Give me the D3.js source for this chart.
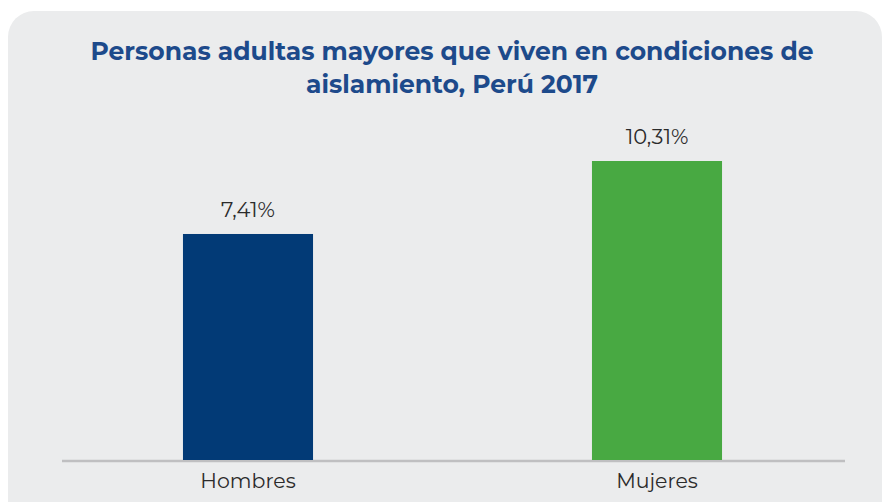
<!DOCTYPE html>
<html lang="es">
<head>
	<meta charset="UTF-8">
	<title>Personas adultas mayores en aislamiento</title>
	<style>
		body {
			margin: 0;
			background: #fff;
			overflow: hidden;
		}
		svg {
			display: block;
		}
		.title {
			font-family: "Montserrat", "Open Sans", sans-serif;
			font-weight: 700;
			font-size: 25px;
			fill: #1d4a8b;
		}
		.val, .cat {
			font-family: "Montserrat", "Open Sans", sans-serif;
			fill: #2b2b2b;
		}
	</style>
	<script src="https://d3js.org/d3.v7.min.js"></script>
</head>
<body>
	<script>
		// datos
		const categories = ["Hombres", "Mujeres"];
		const values = [7.41, 10.31];
		const labels = ["7,41%", "10,31%"];
		const barColors = ["#023a76", "#48a942"];
		const titleLines = ["Personas adultas mayores que viven en condiciones de", "aislamiento, Perú 2017"];
		const yMin = -1.57; // the axis in the original does not start at 0

		const W = 884, H = 502;

		const svg = d3.select("body")
			.append("svg")
			.attr("width", W)
			.attr("height", H);

		// panel de fondo
		svg.append("rect")
			.attr("x", 8)
			.attr("y", 11)
			.attr("width", 874)
			.attr("height", 520)
			.attr("rx", 26)
			.attr("fill", "#ebeced");

		svg.selectAll(".title")
			.data(titleLines)
			.enter()
			.append("text")
			.attr("class", "title")
			.attr("x", 452)
			.attr("y", (d, i) => 60 + i * 33)
			.attr("text-anchor", "middle")
			.text(d => d);

		const x = d3.scaleBand()
			.domain(categories)
			.range([43.5, 861.5])
			.padding(0);

		const y = d3.scaleLinear()
			.domain([yMin, d3.max(values)])
			.range([460, 161]);

		const barW = x.bandwidth() * 0.318;

		// eje
		svg.append("line")
			.attr("x1", 62)
			.attr("x2", 845)
			.attr("y1", 461)
			.attr("y2", 461)
			.attr("stroke", "#bfbfc1")
			.attr("stroke-width", 2.5);

		svg.selectAll(".bar")
			.data(values)
			.enter()
			.append("rect")
			.attr("class", "bar")
			.attr("x", (d, i) => x(categories[i]) + x.bandwidth() / 2 - barW / 2)
			.attr("y", d => y(d))
			.attr("width", barW)
			.attr("height", d => y(yMin) - y(d))
			.attr("fill", (d, i) => barColors[i]);

		svg.selectAll(".val")
			.data(values)
			.enter()
			.append("text")
			.attr("class", "val")
			.attr("x", (d, i) => x(categories[i]) + x.bandwidth() / 2)
			.attr("y", d => y(d) - 17)
			.attr("text-anchor", "middle")
			.attr("font-size", 21)
			.text((d, i) => labels[i]);

		svg.selectAll(".cat")
			.data(categories)
			.enter()
			.append("text")
			.attr("class", "cat")
			.attr("x", d => x(d) + x.bandwidth() / 2)
			.attr("y", 488)
			.attr("text-anchor", "middle")
			.attr("font-size", 20.5)
			.text(d => d);
	</script>
</body>
</html>
